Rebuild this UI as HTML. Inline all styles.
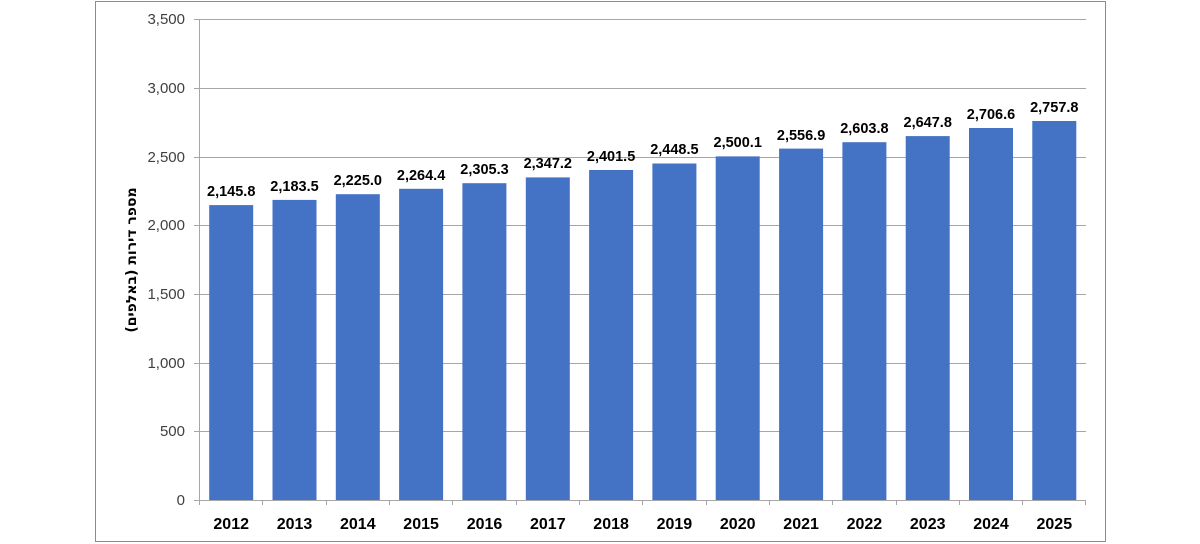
<!DOCTYPE html>
<html><head><meta charset="utf-8"><style>
body{margin:0;background:#fff;}
</style></head><body>
<svg width="1200" height="544" xmlns="http://www.w3.org/2000/svg" style="display:block">
<rect x="95.5" y="1.5" width="1010" height="540" fill="#fff" stroke="#8c8c8c" stroke-width="1"/>
<g stroke="#a6a6a6" stroke-width="1">
<line x1="194" x2="1086" y1="500.5" y2="500.5"/>
<line x1="194" x2="1086" y1="431.5" y2="431.5"/>
<line x1="194" x2="1086" y1="363.5" y2="363.5"/>
<line x1="194" x2="1086" y1="294.5" y2="294.5"/>
<line x1="194" x2="1086" y1="225.5" y2="225.5"/>
<line x1="194" x2="1086" y1="157.5" y2="157.5"/>
<line x1="194" x2="1086" y1="88.5" y2="88.5"/>
<line x1="194" x2="1086" y1="19.5" y2="19.5"/>
<line x1="199.5" x2="199.5" y1="19" y2="505"/>
<line x1="262.5" x2="262.5" y1="500" y2="505"/>
<line x1="326.5" x2="326.5" y1="500" y2="505"/>
<line x1="389.5" x2="389.5" y1="500" y2="505"/>
<line x1="452.5" x2="452.5" y1="500" y2="505"/>
<line x1="516.5" x2="516.5" y1="500" y2="505"/>
<line x1="579.5" x2="579.5" y1="500" y2="505"/>
<line x1="642.5" x2="642.5" y1="500" y2="505"/>
<line x1="706.5" x2="706.5" y1="500" y2="505"/>
<line x1="769.5" x2="769.5" y1="500" y2="505"/>
<line x1="832.5" x2="832.5" y1="500" y2="505"/>
<line x1="896.5" x2="896.5" y1="500" y2="505"/>
<line x1="959.5" x2="959.5" y1="500" y2="505"/>
<line x1="1022.5" x2="1022.5" y1="500" y2="505"/>
<line x1="1085.5" x2="1085.5" y1="500" y2="505"/>
</g>
<g font-family="Liberation Sans, sans-serif" font-size="15" fill="#404040" text-anchor="end">
<text x="185" y="505">0</text>
<text x="185" y="436">500</text>
<text x="185" y="368">1,000</text>
<text x="185" y="299">1,500</text>
<text x="185" y="230">2,000</text>
<text x="185" y="162">2,500</text>
<text x="185" y="93">3,000</text>
<text x="185" y="24">3,500</text>
</g>
<g fill="#4472c4">
<rect x="209.2" y="205.1" width="44" height="294.9"/>
<rect x="272.5" y="199.9" width="44" height="300.1"/>
<rect x="335.8" y="194.2" width="44" height="305.8"/>
<rect x="399.1" y="188.8" width="44" height="311.2"/>
<rect x="462.4" y="183.2" width="44" height="316.8"/>
<rect x="525.8" y="177.4" width="44" height="322.6"/>
<rect x="589.1" y="170.0" width="44" height="330.0"/>
<rect x="652.4" y="163.5" width="44" height="336.5"/>
<rect x="715.7" y="156.4" width="44" height="343.6"/>
<rect x="779.1" y="148.6" width="44" height="351.4"/>
<rect x="842.4" y="142.2" width="44" height="357.8"/>
<rect x="905.7" y="136.1" width="44" height="363.9"/>
<rect x="969.0" y="128.0" width="44" height="372.0"/>
<rect x="1032.3" y="121.0" width="44" height="379.0"/>
</g>
<g font-family="Liberation Sans, sans-serif" font-weight="bold" font-size="14.5" fill="#000" text-anchor="middle">
<text x="231.2" y="196">2,145.8</text>
<text x="294.5" y="191">2,183.5</text>
<text x="357.8" y="185">2,225.0</text>
<text x="421.1" y="180">2,264.4</text>
<text x="484.5" y="174">2,305.3</text>
<text x="547.8" y="168">2,347.2</text>
<text x="611.1" y="161">2,401.5</text>
<text x="674.4" y="154">2,448.5</text>
<text x="737.7" y="147">2,500.1</text>
<text x="801.1" y="140">2,556.9</text>
<text x="864.4" y="133">2,603.8</text>
<text x="927.7" y="127">2,647.8</text>
<text x="991.0" y="119">2,706.6</text>
<text x="1054.3" y="112">2,757.8</text>
</g>
<g font-family="Liberation Sans, sans-serif" font-weight="bold" font-size="16" fill="#000" text-anchor="middle">
<text x="231.2" y="529">2012</text>
<text x="294.5" y="529">2013</text>
<text x="357.8" y="529">2014</text>
<text x="421.1" y="529">2015</text>
<text x="484.5" y="529">2016</text>
<text x="547.8" y="529">2017</text>
<text x="611.1" y="529">2018</text>
<text x="674.4" y="529">2019</text>
<text x="737.7" y="529">2020</text>
<text x="801.1" y="529">2021</text>
<text x="864.4" y="529">2022</text>
<text x="927.7" y="529">2023</text>
<text x="991.0" y="529">2024</text>
<text x="1054.3" y="529">2025</text>
</g>
<text transform="translate(136,260) rotate(-90)" text-anchor="middle" direction="rtl" font-family="DejaVu Sans, sans-serif" font-weight="bold" font-size="14" fill="#000">מספר דירות (באלפים)</text>
</svg>
</body></html>
